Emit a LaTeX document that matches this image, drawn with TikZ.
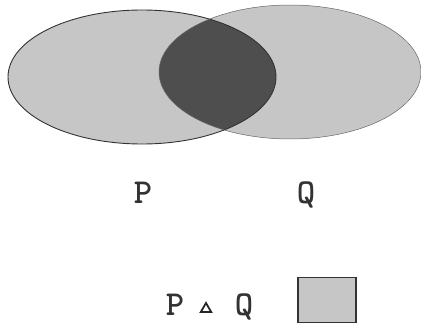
\documentclass[tikz,border=0pt]{standalone}
\usetikzlibrary{shapes.geometric}
\definecolor{lightfill}{HTML}{C6C6C6}
\definecolor{darkfill}{HTML}{4E4E4E}
\definecolor{edge}{HTML}{333333}
\tikzset{
  lbl/.style={font=\ttfamily\bfseries\fontsize{35}{35}\selectfont, inner sep=0pt, text=black!80},
  setedge/.style={draw=edge, line width=0.9pt}
}
\begin{document}
\begin{tikzpicture}[x=1pt,y=-1pt]
\useasboundingbox (0,0) rectangle (421,329);
% sets
\fill[lightfill] (142,77) ellipse [x radius=134, y radius=67];
\fill[lightfill] (290,72) ellipse [x radius=131, y radius=67];
\begin{scope}
  \clip (142,77) ellipse [x radius=134, y radius=67];
  \fill[darkfill] (290,72) ellipse [x radius=131, y radius=67];
\end{scope}
\draw[setedge] (142,77) ellipse [x radius=134, y radius=67];
\draw[setedge, line width=0.5pt, draw=black!60] (290,72) ellipse [x radius=131, y radius=67];
% labels
\node[lbl, anchor=base] (p) at (143,203) {P};
\node[lbl, anchor=base] (q) at (306,203) {Q};
\node[lbl, anchor=base] (p2) at (175,315) {P};
\node[regular polygon, regular polygon sides=3, draw=black!85, line width=1.8pt, minimum size=12pt, inner sep=0pt] (op) at (206,309) {};
\node[lbl, anchor=base] (q2) at (244,315) {Q};
\node[draw=edge, line width=1.6pt, fill=lightfill, minimum width=58pt, minimum height=45pt, inner sep=0pt] (key) at (327,300) {};
\end{tikzpicture}
\end{document}
